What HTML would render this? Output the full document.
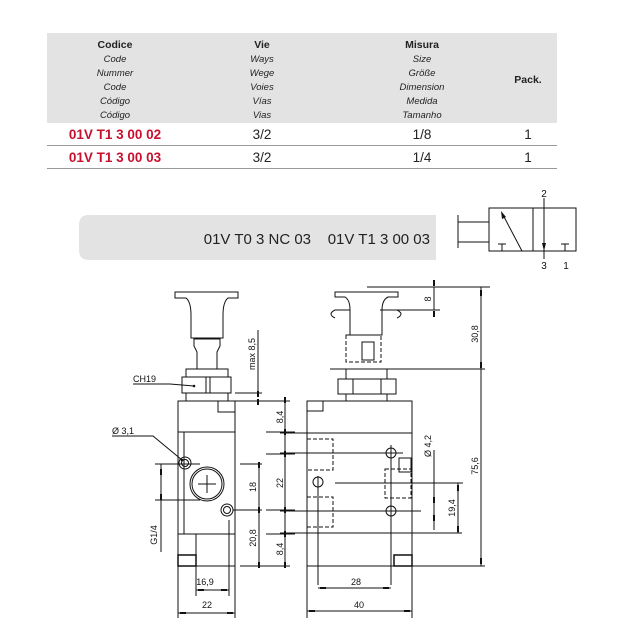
<!DOCTYPE html>
<html><head><meta charset="utf-8"><style>
body{margin:0;background:#fff}
svg{display:block}
.h{font-family:"Liberation Sans",sans-serif;font-size:10.5px;font-weight:bold;fill:#222}
.i{font-family:"Liberation Sans",sans-serif;font-size:9.5px;font-style:italic;fill:#222}
.r{font-family:"Liberation Sans",sans-serif;font-size:13.5px;fill:#222}
.c{font-family:"Liberation Sans",sans-serif;font-size:13.5px;font-weight:bold;fill:#c8102e}
.d{font-family:"Liberation Sans",sans-serif;font-size:9px;fill:#111}
</style></head><body>
<svg width="640" height="640" viewBox="0 0 640 640" xmlns="http://www.w3.org/2000/svg">
<rect x="47" y="33" width="510" height="90" fill="#e3e3e3"/>
<g text-anchor="middle">
<text class="h" x="115" y="48">Codice</text>
<text class="i" x="115" y="62">Code</text><text class="i" x="115" y="76">Nummer</text><text class="i" x="115" y="90">Code</text><text class="i" x="115" y="104">Código</text><text class="i" x="115" y="118">Código</text>
<text class="h" x="262" y="48">Vie</text>
<text class="i" x="262" y="62">Ways</text><text class="i" x="262" y="76">Wege</text><text class="i" x="262" y="90">Voies</text><text class="i" x="262" y="104">Vías</text><text class="i" x="262" y="118">Vias</text>
<text class="h" x="422" y="48">Misura</text>
<text class="i" x="422" y="62">Size</text><text class="i" x="422" y="76">Größe</text><text class="i" x="422" y="90">Dimension</text><text class="i" x="422" y="104">Medida</text><text class="i" x="422" y="118">Tamanho</text>
<text class="h" x="528" y="83">Pack.</text>
<text class="c" x="115" y="139">01V T1 3 00 02</text>
<text class="r" x="262" y="139">3/2</text><text class="r" x="422" y="139">1/8</text><text class="r" x="528" y="139">1</text>
<text class="c" x="115" y="162">01V T1 3 00 03</text>
<text class="r" x="262" y="162">3/2</text><text class="r" x="422" y="162">1/4</text><text class="r" x="528" y="162">1</text>
</g>
<line x1="47" y1="145.5" x2="557" y2="145.5" stroke="#999"/>
<line x1="47" y1="168.5" x2="557" y2="168.5" stroke="#999"/>

<path d="M89 215 H436 V260 H89 Q79 260 79 250 V225 Q79 215 89 215Z" fill="#e3e3e3"/>
<text x="430" y="244" text-anchor="end" font-family="Liberation Sans,sans-serif" font-size="15" fill="#222">01V T0 3 NC 03&#160;&#160;&#160; 01V T1 3 00 03</text>

<g stroke="#111" fill="none" stroke-width="1">
<rect x="489" y="208" width="87" height="43"/>
<line x1="533" y1="208" x2="533" y2="251"/>
<line x1="458" y1="215" x2="458" y2="248"/>
<line x1="458" y1="222" x2="489" y2="222"/><line x1="458" y1="242" x2="489" y2="242"/>
<line x1="502" y1="213" x2="522" y2="251"/>
<line x1="544" y1="198" x2="544" y2="259"/>
<path d="M498 244h8M502 244v7M561 244h8M565 244v7"/>
</g>
<path d="M501 211l1 8l4 -2z M544 251l-2 -8h4z" fill="#111"/>
<g class="d" text-anchor="middle" style="font-size:10px"><text x="544" y="197">2</text><text x="544" y="269">3</text><text x="566" y="269">1</text></g>

<g stroke="#111" fill="none" stroke-width="1">
<!-- left view -->
<rect x="178" y="401" width="57" height="165"/>
<line x1="178" y1="432" x2="235" y2="432"/><line x1="178" y1="534" x2="235" y2="534"/>
<line x1="184" y1="432" x2="184" y2="534"/>
<rect x="218" y="401" width="17" height="11"/>
<rect x="178" y="555" width="18" height="11" stroke-width="1.5"/>
<circle cx="207" cy="484" r="17"/><circle cx="207" cy="484" r="15"/>
<path d="M198 484h18M207 475v18"/>
<circle cx="185" cy="463" r="6"/><circle cx="185" cy="463" r="3.5"/>
<circle cx="227" cy="510" r="6"/><circle cx="227" cy="510" r="3.5"/>
<rect x="186" y="369" width="42" height="8"/>
<rect x="182" y="377" width="49" height="16"/>
<line x1="206" y1="377" x2="206" y2="393"/><line x1="210" y1="377" x2="210" y2="393"/>
<rect x="186" y="393" width="42" height="8"/>
<path d="M197 369V352L194 346V339H220V346L217 352V369"/>
<path d="M175 292H238V298H228Q223 302 223 315V338H191V315Q191 302 186 298H175Z"/>
<!-- dims left -->
<path d="M258 330V395M235 393H262M235 401H262"/>
<path d="M133 384H170L194 386"/>
<path d="M112 436H153L182 460"/>
<path d="M259 464V566M240 464H262M233 510H262M240 566H262"/>
<path d="M285 401V566M266 432H295M266 454H295M266 510H295M266 534H295M240 401H290M240 566H290"/>
<path d="M161 464V552M155 464H200M155 500H200"/>
<path d="M196 534V596M229 520V596M196 590H229M178 566V618M235 566V618M178 613H235"/>
<!-- right view -->
<rect x="307" y="401" width="105" height="165"/>
<rect x="307" y="401" width="16" height="10"/>
<rect x="394" y="555" width="18" height="11" stroke-width="1.5"/>
<line x1="280" y1="433" x2="412" y2="433"/><line x1="280" y1="533" x2="412" y2="533"/>
<g stroke-dasharray="4,2"><rect x="307" y="439" width="26" height="31"/><rect x="307" y="497" width="26" height="30"/><rect x="385" y="469" width="26" height="29"/>
<rect x="346" y="335" width="35" height="27"/></g>
<rect x="399" y="458" width="12" height="14"/>
<circle cx="391" cy="453" r="5"/><circle cx="318" cy="482" r="5"/><circle cx="391" cy="511" r="5"/>
<path d="M280 453H403M318 476V585M335 483H463M280 511H421M391 445V585"/>
<rect x="346" y="369" width="41" height="10"/>
<rect x="338" y="379" width="58" height="15"/>
<line x1="353" y1="379" x2="353" y2="394"/><line x1="381" y1="379" x2="381" y2="394"/>
<rect x="346" y="394" width="41" height="7"/>
<rect x="362" y="342" width="12" height="18"/>
<path d="M335 292H398V297H388Q382 300 382 310V335H350V310Q350 300 345 297H335Z"/>
<path d="M350 310H335Q327 314 335 318M382 310H397Q405 314 397 318"/>
<path d="M434 287V310M367 287H490M380 310H440"/>
<path d="M481 287V566M330 369H485M412 566H485"/>
<path d="M434 450V530M458 483V533M412 533H462"/>
<path d="M318 588H391M307 566V618M412 566V618M307 611H412"/>
</g>
<g fill="#111">
<rect x="257" y="391" width="2" height="6"/><rect x="257" y="399" width="2" height="6"/>
<rect x="258" y="462" width="2" height="6"/><rect x="258" y="507" width="2" height="6"/><rect x="258" y="562" width="2" height="6"/>
<rect x="284" y="397" width="2" height="6"/><rect x="284" y="429" width="2" height="6"/><rect x="284" y="451" width="2" height="6"/><rect x="284" y="507" width="2" height="6"/><rect x="284" y="531" width="2" height="6"/><rect x="284" y="562" width="2" height="6"/>
<rect x="160" y="469" width="2" height="6"/><rect x="160" y="494" width="2" height="6"/>
<rect x="198" y="589" width="6" height="2"/><rect x="221" y="589" width="6" height="2"/>
<rect x="180" y="612" width="6" height="2"/><rect x="227" y="612" width="6" height="2"/>
<rect x="320" y="587" width="6" height="2"/><rect x="383" y="587" width="6" height="2"/>
<rect x="309" y="610" width="6" height="2"/><rect x="404" y="610" width="6" height="2"/>
<rect x="480" y="290" width="2" height="6"/><rect x="480" y="362" width="2" height="6"/><rect x="480" y="558" width="2" height="6"/>
<rect x="433" y="280" width="2" height="6"/><rect x="433" y="311" width="2" height="6"/>
<rect x="433" y="497" width="2" height="6"/><rect x="433" y="515" width="2" height="6"/>
<rect x="457" y="485" width="2" height="6"/><rect x="457" y="526" width="2" height="6"/>
<circle cx="194" cy="386" r="1.3"/><circle cx="182" cy="460" r="1.3"/>
</g>
<g class="d">
<text x="133" y="382">CH19</text>
<text x="112" y="434">Ø 3,1</text>
<text x="205" y="585" text-anchor="middle">16,9</text>
<text x="207" y="608" text-anchor="middle">22</text>
<text x="356" y="585" text-anchor="middle">28</text>
<text x="359" y="608" text-anchor="middle">40</text>
<text transform="translate(255,338) rotate(-90)" text-anchor="end">max 8,5</text>
<text transform="translate(283,417) rotate(-90)" text-anchor="middle">8,4</text>
<text transform="translate(283,483) rotate(-90)" text-anchor="middle">22</text>
<text transform="translate(283,549) rotate(-90)" text-anchor="middle">8,4</text>
<text transform="translate(256,487) rotate(-90)" text-anchor="middle">18</text>
<text transform="translate(256,538) rotate(-90)" text-anchor="middle">20,8</text>
<text transform="translate(157,535) rotate(-90)" text-anchor="middle">G1/4</text>
<text transform="translate(431,299) rotate(-90)" text-anchor="middle">8</text>
<text transform="translate(478,334) rotate(-90)" text-anchor="middle">30,8</text>
<text transform="translate(478,466) rotate(-90)" text-anchor="middle">75,6</text>
<text transform="translate(431,446) rotate(-90)" text-anchor="middle">Ø 4,2</text>
<text transform="translate(455,508) rotate(-90)" text-anchor="middle">19,4</text>
</g>
</svg>
</body></html>
